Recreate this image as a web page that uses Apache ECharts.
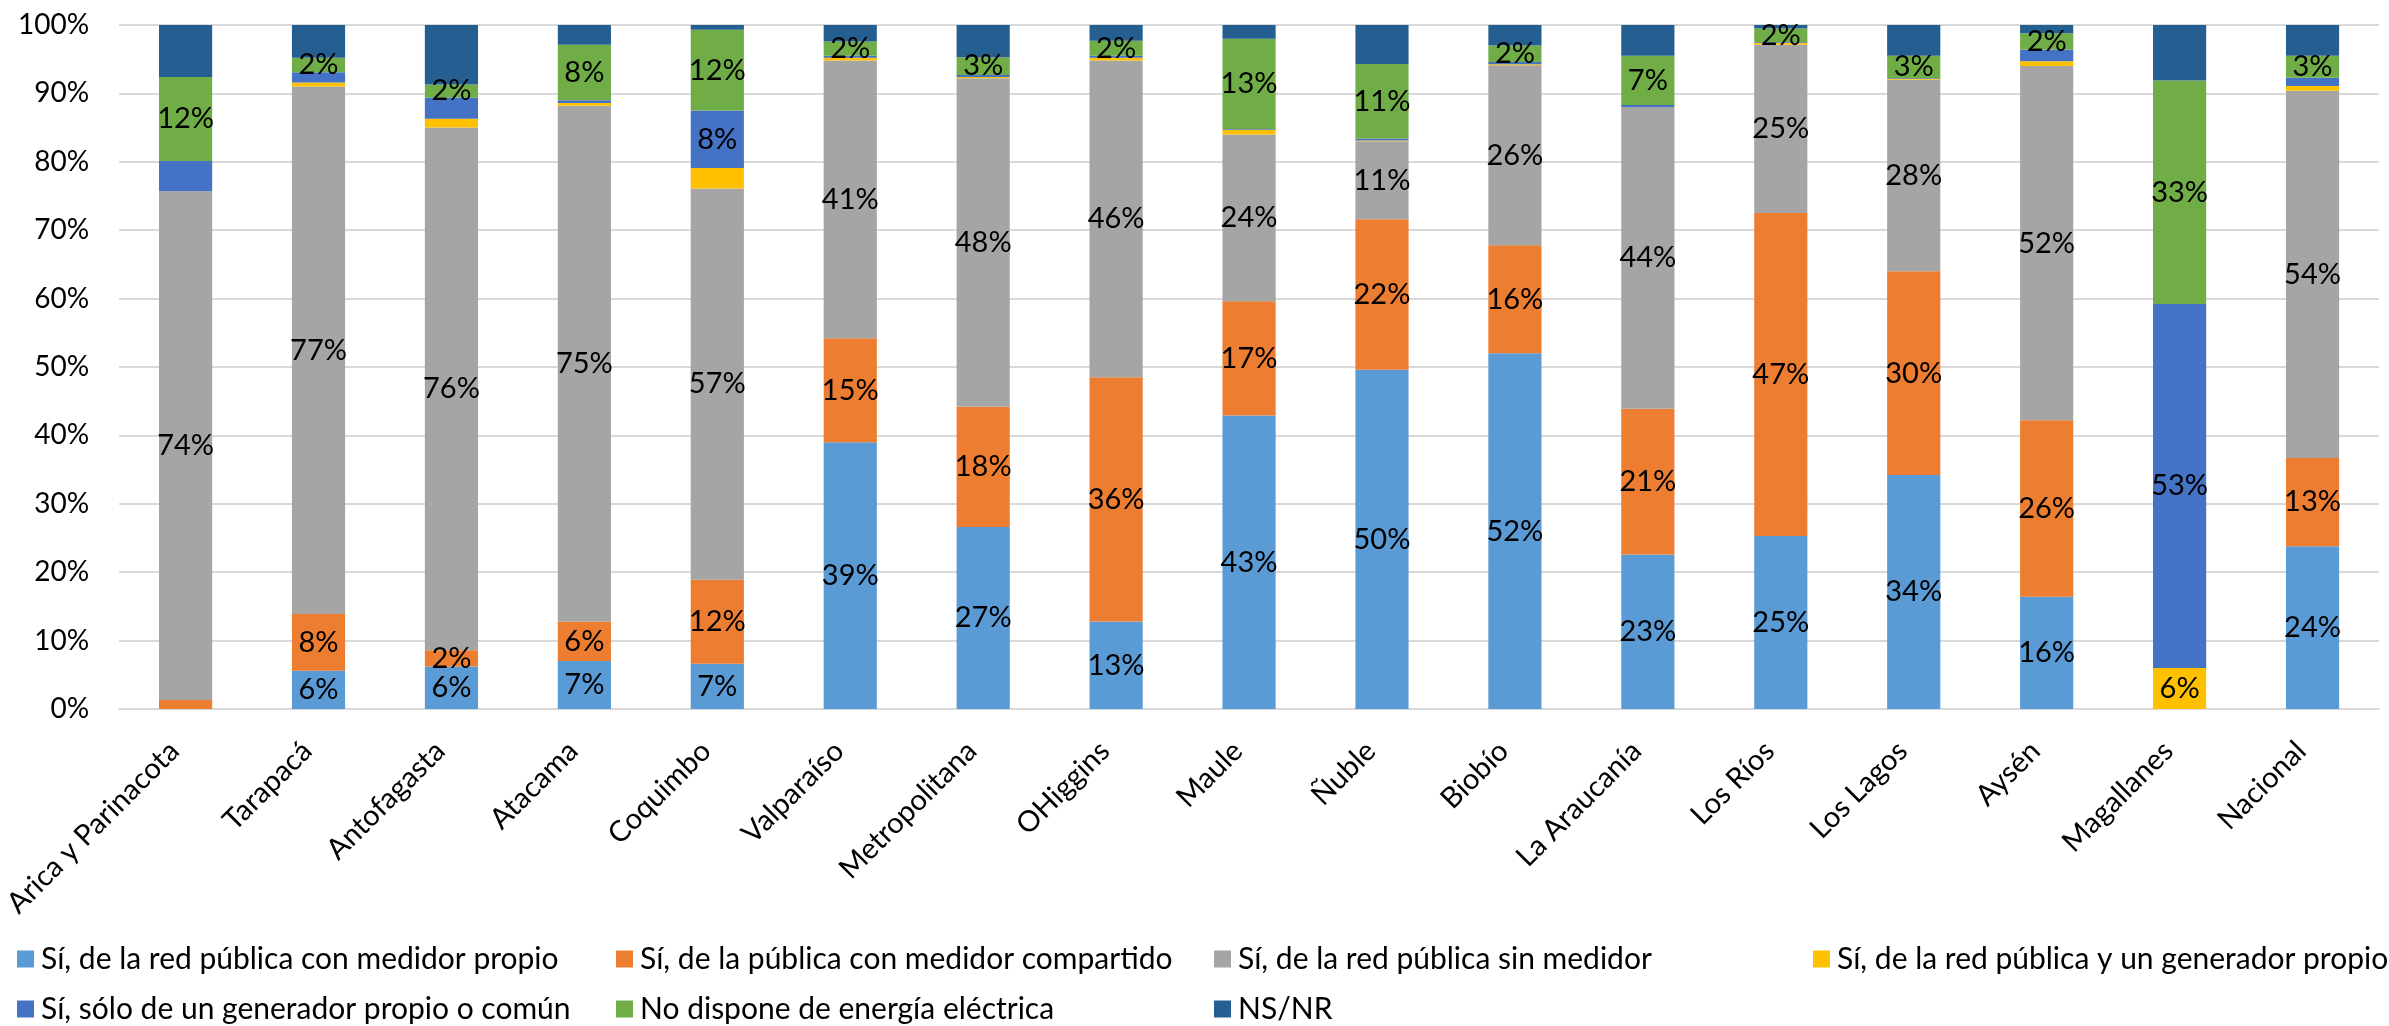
<!DOCTYPE html>
<html>
<head>
<meta charset="utf-8">
<script src="https://cdn.jsdelivr.net/npm/echarts@6/dist/echarts.min.js"></script>
<style>html,body{margin:0;padding:0;background:#fff;}#c{width:2389px;height:1026px;}</style>
</head>
<body>
<div id="c"></div>
<script>
const categories = ['Arica y Parinacota','Tarapacá','Antofagasta','Atacama','Coquimbo','Valparaíso','Metropolitana','OHiggins','Maule','Ñuble','Biobío','La Araucanía','Los Ríos','Los Lagos','Aysén','Magallanes','Nacional'];
const seriesNames = ['Sí, de la red pública con medidor propio','Sí, de la pública con medidor compartido','Sí, de la red pública sin medidor','Sí, de la red pública y un generador propio','Sí, sólo de un generador propio o común','No dispone de energía eléctrica','NS/NR'];
const medidorPropio   = [0,   5.6, 6.2, 7.0, 6.6, 39.0,26.6,12.8,42.9,49.6,52.0,22.6,25.3,34.2,16.4,0,   23.8];
const medidorCompart  = [1.3, 8.3, 2.4, 5.8, 12.3,15.2,17.6,35.7,16.7,22.0,15.8,21.3,47.2,29.8,25.8,0,   12.9];
const sinMedidor      = [74.4,77.1,76.4,75.4,57.2,40.6,48.0,46.3,24.4,11.4,26.3,44.1,24.6,28.0,51.8,0,   53.7];
const redYGenerador   = [0,   0.6, 1.3, 0.4, 3.0, 0.4, 0.2, 0.4, 0.7, 0.1, 0.15,0,   0.3, 0.1, 0.7, 6.0, 0.7];
const soloGenerador   = [4.4, 1.5, 3.1, 0.4, 8.4, 0.3, 0.3, 0.3, 0.1, 0.3, 0.35,0.3, 0.1, 0.1, 1.7, 53.2,1.2];
const noDispone       = [12.3,2.1, 1.9, 8.1, 11.8,2.1, 2.6, 2.2, 13.2,10.9,2.4, 7.2, 2.0, 3.3, 2.4, 32.7,3.2];
const nsnr            = [7.6, 4.8, 8.7, 2.9, 0.7, 2.4, 4.7, 2.3, 2.0, 5.7, 3.0, 4.5, 0.5, 4.5, 1.2, 8.1, 4.5];
const yTicks = [0,10,20,30,40,50,60,70,80,90,100];

const allData = [medidorPropio, medidorCompart, sinMedidor, redYGenerador, soloGenerador, noDispone, nsnr];
const colors = ['#5B9BD5','#ED7D31','#A5A5A5','#FFC000','#4472C4','#70AD47','#255E91'];
const labelMin = [1.5,1.5,1.5,5,5,1.5,Infinity];
const FONT = 'Lato';

const chart = echarts.init(document.getElementById('c'));
const series = allData.map((d, i) => ({
  name: seriesNames[i],
  type: 'bar',
  stack: 'total',
  data: d,
  barWidth: '40%',
  itemStyle: { color: colors[i] },
  label: {
    show: true,
    position: 'inside',
    color: '#000',
    fontFamily: FONT,
    fontSize: 29,
    formatter: p => (p.value >= labelMin[i] ? Math.round(p.value) + '%' : '')
  },
  emphasis: { disabled: true }
}));

// legend layout: 4 columns, 2 rows
const legendCols = [17, 616, 1214, 1813];
const legendRows = [944, 994];
const legends = seriesNames.map((n, i) => ({
  data: [n],
  left: legendCols[i % 4],
  top: legendRows[Math.floor(i / 4)],
  icon: 'rect',
  itemWidth: 17,
  itemHeight: 17,
  itemGap: 0,
  padding: 0,
  selectedMode: false,
  textStyle: { fontFamily: FONT, fontSize: 30, color: '#000', padding: [0,0,0,2] }
}));

chart.setOption({
  animation: false,
  backgroundColor: '#fff',
  color: colors,
  grid: { left: 113, right: 10, top: 25, bottom: 317, containLabel: false },
  xAxis: {
    type: 'category',
    data: categories,
    axisTick: { show: false },
    axisLine: { show: true, lineStyle: { color: '#D9D9D9', width: 2 } },
    axisLabel: { rotate: 45, interval: 0, margin: 26, padding: [0,16,0,0], fontFamily: FONT, fontSize: 29, color: '#000' }
  },
  yAxis: {
    type: 'value',
    min: yTicks[0],
    max: yTicks[yTicks.length - 1],
    interval: 10,
    axisLine: { show: false },
    axisTick: { show: false },
    splitLine: { lineStyle: { color: '#D9D9D9', width: 2 } },
    axisLabel: { formatter: '{value}%', margin: 30, fontFamily: FONT, fontSize: 28, color: '#000' }
  },
  legend: legends,
  series: series
});
</script>
</body>
</html>
